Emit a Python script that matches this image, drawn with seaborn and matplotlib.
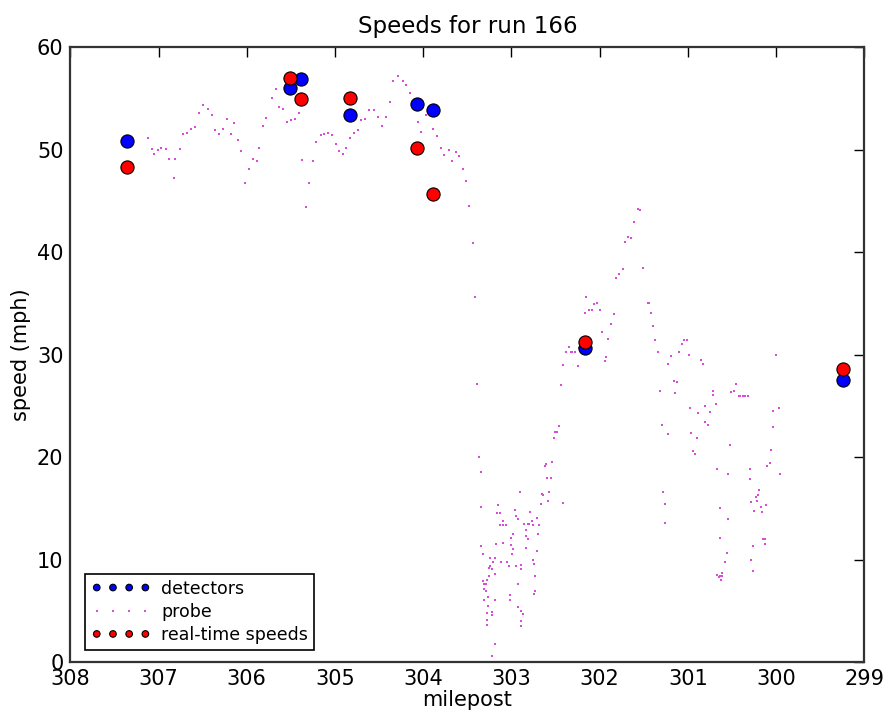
import matplotlib
matplotlib.use("Agg")
import matplotlib.pyplot as plt
import seaborn as sns
import pandas as pd

# === Data ===
det_milepost = [307.36, 305.51, 305.39, 304.83, 304.07, 303.89, 302.17, 299.24]
det_speed = [50.85, 56.0, 56.9, 53.4, 54.5, 53.9, 30.65, 27.5]

rt_milepost = [307.36, 305.51, 305.39, 304.83, 304.07, 303.89, 302.17, 299.24]
rt_speed = [48.3, 57.0, 54.95, 55.05, 50.2, 45.7, 31.2, 28.6]

probe_milepost = [
    307.12, 307.08, 307.05, 307.01, 306.97, 306.92, 306.88, 306.83, 306.81, 306.76,
    306.72, 306.68, 306.63, 306.59, 306.54, 306.50, 306.44, 306.40, 306.36, 306.31,
    306.27, 306.23, 306.18, 306.14, 306.10, 306.07, 306.02, 305.98, 305.93, 305.89,
    305.86, 305.82, 305.78, 305.72, 305.67, 305.63, 305.59, 305.54, 305.50, 305.45,
    305.41, 305.37, 305.33, 305.30, 305.25, 305.21, 305.16, 305.12, 305.08, 305.03,
    304.99, 304.95, 304.91, 304.87, 304.83, 304.79, 304.74, 304.70, 304.66, 304.61,
    304.56, 304.51, 304.47, 304.42, 304.38, 304.34, 304.29, 304.23, 304.19, 304.15,
    304.11, 304.06, 304.02, 303.97, 303.93, 303.89, 303.84, 303.80, 303.76, 303.71,
    303.67, 303.63, 303.60, 303.55, 303.51, 303.48, 303.44, 303.41, 303.39, 303.37,
    303.35, 303.35, 303.34, 303.32, 303.32, 303.31, 303.29, 303.31, 303.29, 303.31,
    303.28, 303.26, 303.26, 303.28, 303.28, 303.28, 303.25, 303.25, 303.24, 303.24,
    303.22, 303.22, 303.22, 303.22, 303.21, 303.19, 303.21, 303.19, 303.19, 303.19,
    303.18, 303.16, 303.13, 303.15, 303.13, 303.10, 303.09, 303.06, 303.10, 303.12,
    303.05, 303.03, 303.02, 303.02, 303.00, 303.00, 302.99, 302.98, 302.98, 302.96,
    302.95, 302.95, 302.93, 302.93, 302.92, 302.90, 302.89, 302.89, 302.89, 302.87,
    302.89, 302.89, 302.86, 302.84, 302.84, 302.83, 302.81, 302.81, 302.80, 302.79,
    302.77, 302.76, 302.76, 302.74, 302.74, 302.73, 302.73, 302.76, 302.71, 302.71,
    302.70, 302.69, 302.67, 302.65, 302.64, 302.58, 302.57, 302.60, 302.55, 302.62,
    302.61, 302.54, 302.41, 302.52, 302.51, 302.48, 302.46, 302.44, 302.42, 302.38,
    302.35, 302.33, 302.31, 302.28, 302.25, 302.23, 302.17, 302.15, 302.12, 302.09,
    302.06, 302.03, 302.00, 301.97, 301.94, 301.93, 301.90, 301.87, 301.84, 301.81,
    301.78, 301.74, 301.71, 301.68, 301.64, 301.61, 301.57, 301.54, 301.51, 301.45,
    301.44, 301.42, 301.39, 301.37, 301.34, 301.32, 301.29, 301.28, 301.26, 301.26,
    301.23, 301.22, 301.19, 301.16, 301.15, 301.12, 301.10, 301.07, 301.04, 301.01,
    300.99, 300.97, 300.96, 300.94, 300.92, 300.90, 300.89, 300.85, 300.83, 300.81,
    300.80, 300.77, 300.75, 300.72, 300.71, 300.68, 300.67, 300.64, 300.64, 300.55,
    300.54, 300.52, 300.51, 300.48, 300.45, 300.42, 300.41, 300.38, 300.35, 300.32,
    300.00, 300.03, 299.97, 300.04, 300.06, 300.07, 300.10, 299.96, 300.29, 300.30,
    300.19, 300.20, 300.23, 300.22, 300.28, 300.17, 300.11, 300.25, 300.16, 300.15,
    300.13, 300.13, 300.26, 300.56, 300.58, 300.28, 300.26, 300.67, 300.65, 300.63,
    300.61, 300.61, 300.62, 300.22,
]
probe_speed = [
    51.1, 50.1, 49.6, 50.0, 50.2, 50.1, 49.1, 47.2, 49.1, 50.1,
    51.5, 51.6, 52.0, 52.2, 53.6, 54.4, 54.0, 53.4, 51.9, 51.5,
    52.0, 53.0, 51.5, 52.6, 50.9, 49.9, 46.7, 48.1, 49.1, 48.9,
    50.2, 52.3, 53.1, 55.0, 55.9, 54.2, 54.0, 52.7, 52.9, 53.0,
    53.6, 49.0, 44.4, 46.7, 48.9, 50.7, 51.4, 51.5, 51.6, 51.4,
    50.6, 49.9, 49.6, 50.2, 51.1, 51.6, 51.9, 52.9, 53.0, 53.9,
    53.9, 53.2, 52.3, 53.2, 54.7, 56.7, 57.2, 56.7, 56.3, 55.5,
    54.0, 52.7, 51.7, 53.4, 53.7, 52.0, 51.3, 50.2, 49.5, 50.0,
    48.9, 49.8, 49.4, 48.1, 46.9, 44.5, 40.9, 35.6, 27.1, 20.0,
    18.5, 15.1, 11.3, 10.5, 7.9, 7.6, 7.6, 7.1, 6.9, 6.1,
    8.0, 6.4, 5.5, 4.8, 4.1, 3.6, 8.4, 9.2, 10.2, 9.4,
    9.1, 4.9, 4.6, 0.6, 0.0, 10.2, 9.8, 8.6, 6.1, 1.8,
    11.5, 14.5, 14.5, 15.3, 13.4, 13.8, 13.4, 13.4, 11.6, 9.8,
    9.8, 9.4, 6.5, 6.1, 12.1, 11.4, 10.5, 12.5, 11.0, 14.8,
    14.3, 9.4, 7.6, 5.4, 14.0, 16.6, 9.5, 9.1, 5.0, 4.7,
    4.0, 3.5, 13.5, 12.9, 12.3, 11.1, 13.5, 12.0, 13.5, 14.6,
    13.8, 13.4, 10.0, 9.6, 6.6, 6.9, 8.4, 0.0, 14.1, 10.8,
    12.5, 13.4, 15.4, 16.4, 16.3, 15.7, 16.6, 18.0, 18.0, 19.1,
    19.3, 19.5, 15.5, 21.9, 22.5, 22.5, 23.0, 27.0, 29.0, 30.3,
    30.7, 30.3, 30.3, 30.3, 28.9, 30.6, 34.1, 35.6, 34.4, 34.4,
    34.9, 35.0, 34.4, 32.2, 29.4, 29.8, 31.5, 33.0, 34.0, 37.5,
    37.9, 38.4, 41.0, 41.5, 41.4, 42.9, 44.2, 44.1, 38.5, 35.0,
    35.0, 34.1, 32.8, 31.4, 30.3, 26.5, 23.1, 16.6, 15.4, 13.6,
    22.3, 29.1, 29.9, 27.4, 26.3, 27.3, 30.3, 31.0, 31.4, 31.4,
    30.0, 24.8, 22.4, 20.6, 20.3, 21.9, 24.3, 29.5, 29.1, 25.0,
    23.4, 23.1, 24.4, 26.1, 26.5, 25.2, 18.8, 15.0, 12.1, 14.0,
    18.4, 21.2, 26.4, 26.5, 27.1, 26.0, 26.0, 26.0, 26.0, 26.0,
    30.0, 24.5, 24.8, 22.9, 20.7, 19.4, 19.1, 18.4, 18.8, 17.9,
    16.8, 16.3, 16.1, 15.7, 15.6, 15.1, 15.3, 14.7, 14.6, 12.0,
    12.0, 11.5, 11.3, 10.6, 9.8, 10.0, 8.9, 8.5, 8.3, 8.4,
    8.4, 8.7, 8.0, 0.0,
]

XTICKS = [308, 307, 306, 305, 304, 303, 302, 301, 300, 299]
YTICKS = [0, 10, 20, 30, 40, 50, 60]

det_df = pd.DataFrame({"milepost": det_milepost, "speed": det_speed})
rt_df = pd.DataFrame({"milepost": rt_milepost, "speed": rt_speed})
probe_df = pd.DataFrame({"milepost": probe_milepost, "speed": probe_speed})

# === Style ===
sns.set_style("white")
plt.rcParams["font.family"] = ["DejaVu Sans"]
plt.rcParams["font.size"] = 14
plt.rcParams["text.color"] = "black"
plt.rcParams["axes.labelcolor"] = "black"
plt.rcParams["xtick.color"] = "black"
plt.rcParams["ytick.color"] = "black"
plt.rcParams["xtick.direction"] = "in"
plt.rcParams["ytick.direction"] = "in"
plt.rcParams["xtick.top"] = True
plt.rcParams["ytick.right"] = True

fig = plt.figure(figsize=(8.91, 7.15), dpi=100)
ax = fig.add_axes([0.079, 0.074, 0.891, 0.860])

# === Plot ===
sns.scatterplot(data=det_df, x="milepost", y="speed", ax=ax, color="blue",
                s=90, edgecolor="black", linewidth=0.8, label="detectors", zorder=3)
sns.scatterplot(data=probe_df, x="milepost", y="speed", ax=ax, color="#d94cd9",
                marker="s", s=4, linewidth=0, label="probe", zorder=2)
sns.scatterplot(data=rt_df, x="milepost", y="speed", ax=ax, color="red",
                s=90, edgecolor="black", linewidth=0.8, label="real-time speeds", zorder=4)

ax.set_xlim(308, 299)
ax.set_ylim(0, 60)
ax.set_xticks(XTICKS)
ax.set_yticks(YTICKS)
ax.tick_params(axis="both", which="major", labelsize=15, length=7, width=1, pad=5)
for sp in ax.spines.values():
    sp.set_color("#333333")
    sp.set_linewidth(1.6)

ax.set_title("Speeds for run 166", fontsize=16.5, pad=10)
ax.set_xlabel("milepost", fontsize=15, labelpad=1)
ax.set_ylabel("speed (mph)", fontsize=15, labelpad=4)

leg = ax.legend(loc="lower left", bbox_to_anchor=(0.019, 0.0195), scatterpoints=4,
                scatteryoffsets=[0.5], markerscale=0.5, fontsize=12.5,
                fancybox=False, framealpha=1, edgecolor="black",
                borderpad=0.35, labelspacing=0.3, handlelength=3.4,
                handletextpad=0.6, borderaxespad=0)
leg.get_frame().set_linewidth(1.2)
for h in leg.legend_handles[1:2]:
    h.set_sizes([2.5])

fig.savefig("out.png", dpi=100, facecolor="white")
